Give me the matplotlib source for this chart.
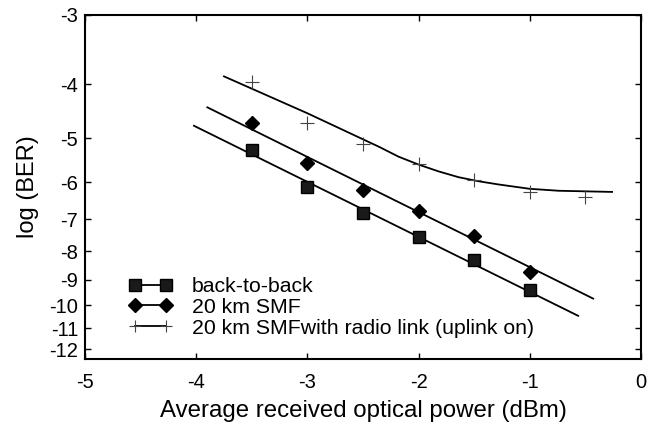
import numpy as np
import matplotlib
matplotlib.use("Agg")
import matplotlib.pyplot as plt
from matplotlib.lines import Line2D
from matplotlib.legend_handler import HandlerLine2D

plt.rcParams['font.family'] = ['Liberation Sans', 'DejaVu Sans']
plt.rcParams['axes.unicode_minus'] = False

# measured points (x = received power dBm, y = log10(BER))
x_pts = [-3.5, -3.0, -2.5, -2.0, -1.5, -1.0]
b2b_y = [-5.25, -6.13, -6.81, -7.52, -8.30, -9.40]
smf_y = [-4.69, -5.54, -6.19, -6.76, -7.51, -8.71]
x_up = [-3.5, -3.0, -2.5, -2.0, -1.5, -1.0, -0.5]
up_y = [-3.96, -4.70, -5.12, -5.57, -5.94, -6.26, -6.38]

# fitted curves
b2b_fit_x = [-4.02, -0.565]
b2b_fit_y = [-4.75, -10.45]
smf_fit_x = [-3.90, -0.43]
smf_fit_y = [-4.40, -9.73]
up_fit_x = [-3.75, -3.0, -2.35, -2.18, -2.0, -1.82, -1.64, -1.46, -1.28, -1.0, -0.74, -0.26]
up_fit_y = [-3.87, -4.51, -5.19, -5.40, -5.58, -5.74, -5.88, -5.98, -6.06, -6.17, -6.22, -6.25]

labels = ['back-to-back', '20 km SMF', '20 km SMFwith radio link (uplink on)']
yticks = [-3, -4, -5, -6, -7, -8, -9, -10, -11, -12]
xticks = [-5, -4, -3, -2, -1, 0]


def fwd(y):
    y = np.asarray(y, dtype=float)
    with np.errstate(invalid='ignore', divide='ignore'):
        return -np.log10(-y)


def inv(z):
    z = np.asarray(z, dtype=float)
    return -np.power(10.0, -z)


fig = plt.figure(figsize=(6.55, 4.29), dpi=100)
ax = fig.add_axes([85/655, 1 - 359/429, (641-85)/655, (359-15)/429])
ax.set_yscale('function', functions=(fwd, inv))

lw = 1.3
ax.plot(b2b_fit_x, b2b_fit_y, color='black', lw=lw)
ax.plot(smf_fit_x, smf_fit_y, color='black', lw=lw)
ax.plot(up_fit_x, up_fit_y, color='black', lw=lw)

ax.plot(x_pts, b2b_y, ls='none', marker='s', ms=9, mfc='#1a1a1a', mec='black')
ax.plot(x_pts, smf_y, ls='none', marker='D', ms=7, mfc='black', mec='black')
ax.plot(x_up, up_y, ls='none', marker='+', ms=10, mew=0.8, color='#444444')

# legend handles
h1 = Line2D([], [], color='black', lw=lw, marker='s', ms=9, mfc='#1a1a1a', mec='black')
h2 = Line2D([], [], color='black', lw=lw, marker='D', ms=7, mfc='black', mec='black')
h3 = Line2D([], [], color='black', lw=lw, marker='+', ms=9, mew=0.8, mec='#444444')
leg = ax.legend([h1, h2, h3], labels,
                loc='upper left', bbox_to_anchor=(0.059, 0.238), frameon=False,
                numpoints=2, handlelength=3.06, handletextpad=0.42,
                labelspacing=0.08, fontsize=15.3, borderaxespad=0, borderpad=0,
                handler_map={Line2D: HandlerLine2D(marker_pad=0.8)})

ax.set_xlim(-5, 0)
ax.set_ylim(-12.5, -3)
ax.set_xticks(xticks)
ax.set_xticklabels([str(v) for v in xticks])
ax.set_yticks(yticks)
ax.set_yticklabels([str(v) for v in yticks])
ax.yaxis.set_minor_locator(matplotlib.ticker.NullLocator())
ax.tick_params(direction='in', length=4, width=1, top=True, right=True,
               labelsize=14.5)
ax.tick_params(axis='y', pad=5)
ax.tick_params(axis='x', pad=10)
for s in ax.spines.values():
    s.set_linewidth(1.5)

ax.set_xlabel('Average received optical power (dBm)', fontsize=17.3, labelpad=6)
ax.set_ylabel('log (BER)', fontsize=17, labelpad=7)

fig.savefig('out.png', dpi=100)
